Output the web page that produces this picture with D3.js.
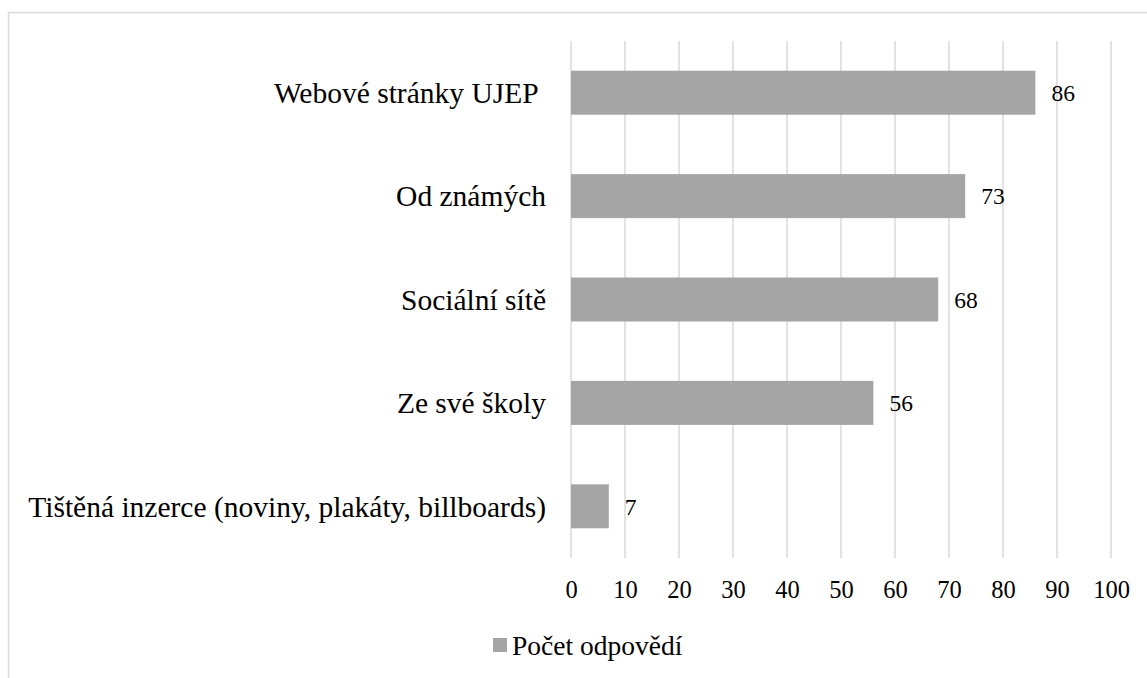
<!DOCTYPE html>
<html>
<head>
<meta charset="utf-8">
<script src="https://cdn.jsdelivr.net/npm/d3@7"></script>
<style>
  html, body { margin: 0; padding: 0; background: #fff; }
  svg { display: block; }
</style>
</head>
<body>
<svg id="chart" width="1147" height="678"></svg>
<script>
const categories = [
  "Webové stránky UJEP\u00a0",
  "Od známých",
  "Sociální sítě",
  "Ze své školy",
  "Tištěná inzerce (noviny, plakáty, billboards)"
];
const values = [86, 73, 68, 56, 7];
const tickValues = [0, 10, 20, 30, 40, 50, 60, 70, 80, 90, 100];
const seriesName = "Počet odpovědí";

const FONT = "Liberation Serif";
const svg = d3.select("#chart");
const W = 1147, H = 678;

// chart border
svg.append("rect")
  .attr("x", 8.5).attr("y", 12.5)
  .attr("width", W + 10).attr("height", H + 10)
  .attr("fill", "none").attr("stroke", "#d9d9d9").attr("stroke-width", 1.5);

const x = d3.scaleLinear().domain([0, 100]).range([571, 1111]);
const y = d3.scaleBand().domain(categories).range([41, 558])
  .paddingInner(0.5745).paddingOuter(0.5745 / 2);

// gridlines
svg.append("g").selectAll("line").data(tickValues).join("line")
  .attr("x1", d => x(d)).attr("x2", d => x(d))
  .attr("y1", 41).attr("y2", 558)
  .attr("stroke", "#d9d9d9").attr("stroke-width", 1.5);

// bars
svg.append("g").selectAll("rect").data(values).join("rect")
  .attr("x", x(0))
  .attr("y", (d, i) => y(categories[i]))
  .attr("width", d => x(d) - x(0))
  .attr("height", y.bandwidth())
  .attr("fill", "#a5a5a5");

// value labels
svg.append("g").selectAll("text").data(values).join("text")
  .attr("x", d => x(d) + 16)
  .attr("y", (d, i) => y(categories[i]) + y.bandwidth() / 2)
  .attr("dy", "0.35em")
  .style("font-family", FONT)
  .attr("font-size", 23.5)
  .attr("fill", "#000")
  .text(d => d);

// category labels
svg.append("g").selectAll("text").data(categories).join("text")
  .attr("x", 546)
  .attr("y", d => y(d) + y.bandwidth() / 2)
  .attr("dy", "0.35em")
  .attr("text-anchor", "end")
  .style("font-family", FONT)
  .attr("font-size", 29.5)
  .attr("fill", "#000")
  .text(d => d);

// x axis tick labels
const xAxis = d3.axisBottom(x).tickValues(tickValues).tickSize(0).tickPadding(0);
const gx = svg.append("g").attr("transform", "translate(0,581)").call(xAxis);
gx.attr("font-family", null).attr("font-size", null);
gx.select(".domain").remove();
gx.selectAll("text")
  .style("font-family", FONT)
  .attr("font-size", 24.5)
  .attr("fill", "#000");

// legend
const lg = svg.append("g");
lg.append("rect").attr("x", 493).attr("y", 638).attr("width", 14).attr("height", 14).attr("fill", "#a5a5a5");
lg.append("text").attr("x", 512).attr("y", 645).attr("dy", "0.35em")
  .style("font-family", FONT)
  .attr("font-size", 27.5)
  .attr("fill", "#000")
  .text(seriesName);
</script>
</body>
</html>
